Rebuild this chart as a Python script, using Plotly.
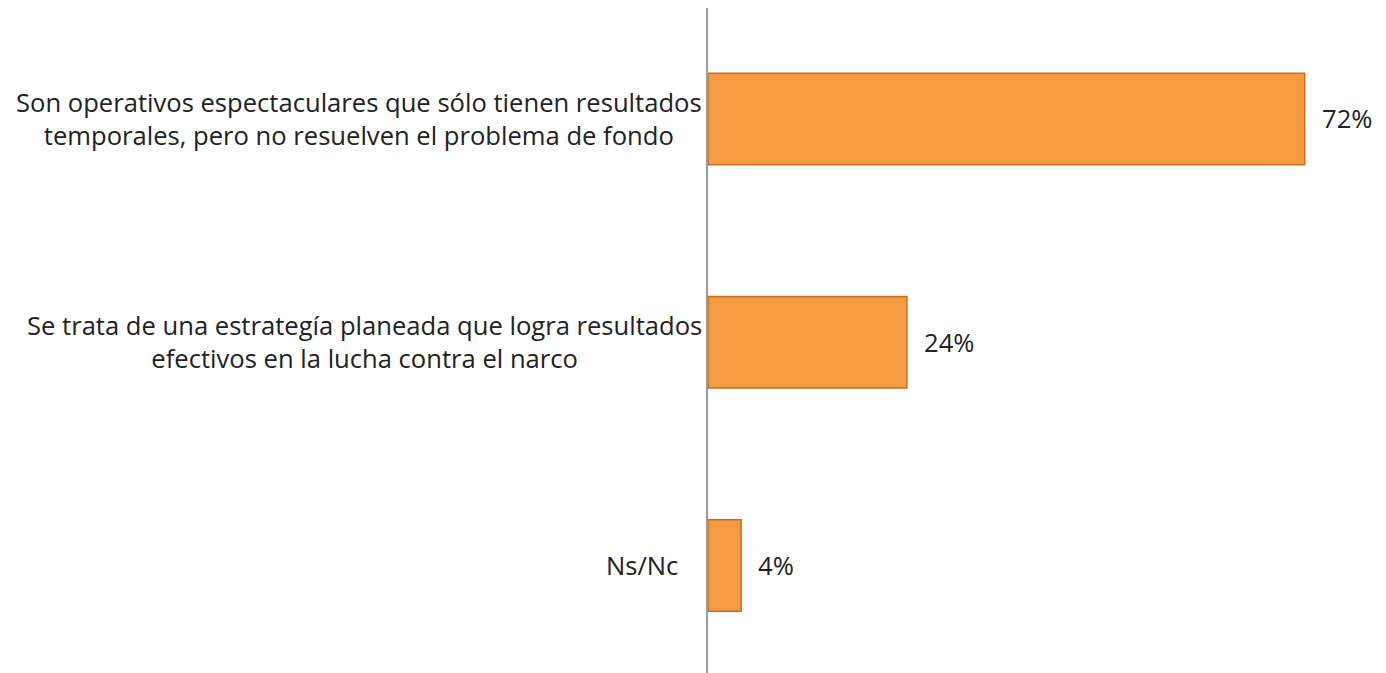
import plotly.graph_objects as go

categories = [
    "Son operativos espectaculares que sólo tienen resultados<br>temporales, pero no resuelven el problema de fondo",
    "Se trata de una estrategía planeada que logra resultados<br>efectivos en la lucha contra el narco",
    "Ns/Nc",
]
values = [72, 24, 4]
value_labels = ["72%", "24%", "4%"]
label_shift = [-4, -4, -28]

FONT = "Open Sans"
fig = go.Figure()
fig.add_trace(go.Bar(
    x=values, y=categories, orientation="h",
    width=0.41,
    marker=dict(color="#F49B42", line=dict(color="#C66E26", width=1.5)),
    hoverinfo="skip",
))

for cat, lab, sh, v in zip(categories, value_labels, label_shift, values):
    fig.add_annotation(x=0, y=cat, xref="x", yref="y", text=cat, showarrow=False,
                       xanchor="right", align="center", xshift=sh,
                       font=dict(family=FONT, size=25.6, color="#222222"))
    fig.add_annotation(x=v, y=cat, xref="x", yref="y", text=lab, showarrow=False,
                       xanchor="left", xshift=15,
                       font=dict(family=FONT, size=25.6, color="#222222"))

fig.update_layout(
    width=1386, height=673,
    margin=dict(l=700, r=23, t=0, b=0),
    paper_bgcolor="white", plot_bgcolor="white",
    showlegend=False,
    xaxis=dict(range=[0, 80], visible=False, fixedrange=True),
    yaxis=dict(range=[2.517, -0.497], showticklabels=False, ticks="",
               showgrid=False, zeroline=False,
               showline=True, linecolor="#9A999E", linewidth=2),
)
fig.write_html("out.html")
